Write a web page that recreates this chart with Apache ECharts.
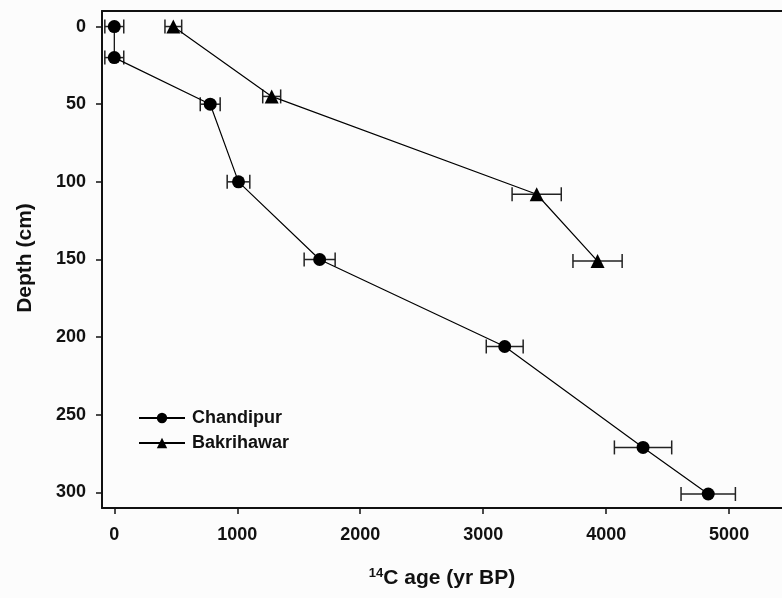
<!DOCTYPE html>
<html>
<head>
<meta charset="utf-8">
<script src="https://cdn.jsdelivr.net/npm/echarts@6/dist/echarts.min.js"></script>
<style>
html,body{margin:0;padding:0;background:#fcfcfc;}
#chart{width:782px;height:598px;}
</style>
</head>
<body>
<div id="chart"></div>
<script>
// Chandipur
var chandipurAge   = [0, 0, 780, 1010, 1670, 3175, 4300, 4830];
var chandipurDepth = [0, 20, 50, 100, 150, 206, 271, 301];
var chandipurErr   = [77, 77, 81, 92, 126, 150, 233, 221];
// Bakrihawar
var bakriAge   = [480, 1280, 3435, 3930];
var bakriDepth = [0, 45, 108, 151];
var bakriErr   = [68, 73, 200, 200];
// ticks
var xTicks = [0, 1000, 2000, 3000, 4000, 5000];
var yTicks = [0, 50, 100, 150, 200, 250, 300];

function pts(a, d) { return a.map(function (v, i) { return [v, d[i]]; }); }
function errData(a, d, e) { return a.map(function (v, i) { return [v, d[i], e[i]]; }); }

function renderErr(params, api) {
  var x = api.value(0), y = api.value(1), e = api.value(2);
  var l = api.coord([x - e, y]);
  var r = api.coord([x + e, y]);
  var h = 7;
  var st = { stroke: '#222', lineWidth: 1.5 };
  return {
    type: 'group',
    children: [
      { type: 'line', shape: { x1: l[0], y1: l[1], x2: r[0], y2: r[1] }, style: st },
      { type: 'line', shape: { x1: l[0], y1: l[1] - h, x2: l[0], y2: l[1] + h }, style: st },
      { type: 'line', shape: { x1: r[0], y1: r[1] - h, x2: r[0], y2: r[1] + h }, style: st }
    ]
  };
}
function fmt(list) {
  return function (v) { return list.indexOf(v) >= 0 ? String(v) : ''; };
}

var chart = echarts.init(document.getElementById('chart'));
var FF = 'Liberation Sans, Arial, sans-serif';
var lab = { fontFamily: FF, fontWeight: 'bold', fontSize: 18, color: '#111' };
chart.setOption({
  backgroundColor: '#fcfcfc',
  animation: false,
  grid: { left: 102, right: 0, top: 11, bottom: 90 },
  legend: {
    left: 133, top: 404, orient: 'vertical',
    itemWidth: 46, itemHeight: 13, itemGap: 7,
    textStyle: { fontFamily: FF, fontWeight: 'bold', fontSize: 18, color: '#111', padding: [0, 0, 0, 2] },
    data: ['Chandipur', 'Bakrihawar']
  },
  xAxis: [{
    type: 'value', min: -100, max: 5430,
    axisLine: { show: true, onZero: false, lineStyle: { color: '#111', width: 2 } },
    axisTick: { show: true, length: 6, lineStyle: { color: '#111', width: 1.5 }, customValues: xTicks },
    axisLabel: Object.assign({ margin: 18, customValues: xTicks, formatter: fmt(xTicks) }, lab),
    splitLine: { show: false }
  }, {
    type: 'value', position: 'top', min: -100, max: 5430,
    axisLine: { show: true, onZero: false, lineStyle: { color: '#111', width: 2 } },
    axisTick: { show: false }, axisLabel: { show: false }, splitLine: { show: false }
  }],
  yAxis: {
    type: 'value', min: -10, max: 310, inverse: true,
    axisLine: { show: true, onZero: false, lineStyle: { color: '#111', width: 2 } },
    axisTick: { show: true, length: 6, lineStyle: { color: '#111', width: 1.5 }, customValues: yTicks },
    axisLabel: Object.assign({ margin: 16, customValues: yTicks, formatter: fmt(yTicks) }, lab),
    splitLine: { show: false }
  },
  graphic: [
    {
      type: 'text', x: 25, y: 258, rotation: Math.PI / 2, originX: 0, originY: 0,
      style: { text: 'Depth (cm)', fontFamily: FF, fontWeight: 'bold', fontSize: 21, fill: '#111', align: 'center', verticalAlign: 'middle' }
    },
    {
      type: 'text', x: 442, y: 578,
      style: {
        text: '{s|14}{n|C age (yr BP)}', align: 'center', verticalAlign: 'middle',
        rich: {
          s: { fontFamily: FF, fontWeight: 'bold', fontSize: 13, fill: '#111', verticalAlign: 'top', padding: [0, 0, 10, 0] },
          n: { fontFamily: FF, fontWeight: 'bold', fontSize: 21, fill: '#111' }
        }
      }
    }
  ],
  series: [
    { type: 'custom', name: 'errC', renderItem: renderErr, data: errData(chandipurAge, chandipurDepth, chandipurErr), z: 1, silent: true, encode: { x: 0, y: 1 } },
    { type: 'custom', name: 'errB', renderItem: renderErr, data: errData(bakriAge, bakriDepth, bakriErr), z: 1, silent: true, encode: { x: 0, y: 1 } },
    {
      type: 'line', name: 'Chandipur', data: pts(chandipurAge, chandipurDepth),
      symbol: 'circle', symbolSize: 13, z: 3,
      lineStyle: { color: '#000', width: 1.2 }, itemStyle: { color: '#000' }
    },
    {
      type: 'line', name: 'Bakrihawar', data: pts(bakriAge, bakriDepth),
      symbol: 'triangle', symbolSize: 14, z: 3,
      lineStyle: { color: '#000', width: 1.2 }, itemStyle: { color: '#000' }
    }
  ]
});
</script>
</body>
</html>
